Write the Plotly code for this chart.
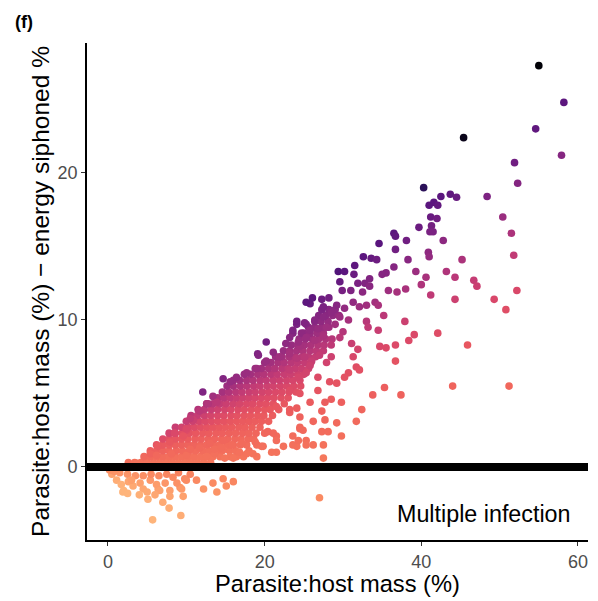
import plotly.graph_objects as go

# ---- data (x = parasite:host mass %, y = mass % - energy siphoned %) ----
tail_x = [55.0, 58.2, 54.6, 45.4, 57.9, 51.9, 52.3, 40.3, 48.4, 42.5, 43.7, 44.5, 41.0, 41.6, 42.1, 50.4, 41.2, 42.0,
          39.7, 41.3, 41.1, 41.5, 38.1, 42.8, 51.5, 51.8, 40.9, 41.0, 38.3, 45.2, 39.3, 40.6, 40.0, 43.2, 44.3, 46.7,
          47.1, 52.2, 38.0, 41.2, 44.3, 49.3, 50.8, 37.9, 39.1, 38.4, 42.1, 45.9, 44.0, 51.2, 37.4]
tail_y = [27.3, 24.8, 23.0, 22.4, 21.2, 20.7, 19.3, 19.0, 18.4, 18.4, 18.55, 18.35, 17.8, 18.0, 17.8, 17.0, 17.0, 16.9,
          16.3, 16.4, 16.0, 16.0, 15.4, 15.4, 15.9, 14.4, 14.6, 14.3, 14.1, 14.1, 13.3, 12.9, 12.4, 13.3, 12.9, 12.7,
          12.3, 12.0, 12.1, 11.7, 11.4, 11.4, 10.7, 9.9, 9.0, 8.6, 9.1, 8.3, 5.5, 5.5, 4.9]

mid_x = [36.5, 36.7, 34.6, 36.7, 32.6, 33.6, 34.3, 31.5, 36.5, 29.4, 30.2, 31.4, 35.5, 35.0, 33.4, 32.8, 31.9, 29.6,
         29.9, 31.0, 35.8, 36.9, 33.4, 32.5, 25.3, 26.1, 27.3, 28.2, 27.5, 29.2, 30.2, 31.3, 32.1, 33.0, 34.1, 34.5,
         35.2, 24.1, 25.1, 26.4, 27.5, 28.5, 29.6, 30.7, 33.0, 33.2, 34.5, 23.6, 24.7, 25.8, 26.8, 27.9, 29.0, 30.0,
         23.2, 24.3, 25.3, 26.4, 27.5, 28.5, 29.6, 31.1, 31.9, 34.7, 35.5, 36.7, 36.7, 23.2, 24.1, 25.1, 26.0, 27.0,
         27.9, 28.5, 31.3, 31.7, 32.1, 30.7, 30.2, 23.2, 24.3, 25.3, 26.8, 28.3, 29.2, 25.8, 33.8, 35.3, 23.2, 24.5,
         25.8, 26.8, 27.7, 28.5, 29.8, 32.4, 31.7, 23.2, 24.5, 26.2, 27.3, 27.7, 29.2, 24.5, 27.3, 28.1, 29.8, 23.6,
         25.3, 26.2, 27.5, 24.3, 27.5]
mid_y = [15.9, 15.7, 15.2, 14.8, 14.3, 14.2, 14.1, 13.7, 13.6, 13.3, 13.3, 13.1, 13.2, 13.1, 12.8, 12.5, 12.5, 12.6,
         12.0, 12.0, 12.0, 11.9, 12.3, 11.9, 11.2, 11.5, 11.4, 11.5, 10.9, 11.0, 10.8, 11.2, 10.9, 11.0, 11.2, 11.0,
         10.3, 9.9, 9.8, 10.0, 10.2, 10.5, 10.2, 10.0, 9.9, 9.5, 9.3, 9.3, 9.1, 9.3, 9.4, 9.5, 9.7, 9.2,
         8.8, 8.5, 8.8, 8.6, 8.9, 8.3, 8.8, 8.4, 8.0, 8.2, 8.1, 8.3, 7.2, 7.7, 7.4, 7.5, 7.2, 7.6,
         7.1, 7.5, 7.5, 6.8, 6.6, 6.4, 6.1, 6.6, 6.1, 6.4, 6.1, 5.8, 5.7, 6.9, 4.9, 5.4, 5.2, 5.0,
         4.4, 5.2, 4.4, 4.6, 4.4, 3.9, 3.1, 3.9, 3.4, 3.1, 3.8, 3.2, 3.0, 2.6, 2.4, 2.4, 2.1, 1.5,
         1.5, 1.5, 1.5, 1.8, 0.6]

edge_x = [12.1, 14.7, 19.1, 20.2, 21.1, 22.7, 23.6, 24.1, 25.3, 25.8, 16.4, 17.7, 19.0, 20.2, 21.9, 23.2, 24.5, 15.6,
          13.4, 12.6, 10.9, 10.0, 9.6, 19.2, 20.7, 21.5, 23.2, 24.1, 24.5, 23.6, 25.3, 24.1, 21.5, 19.8, 19.0, 17.7,
          15.6, 14.3, 21.5, 22.4, 24.9, 13.6, 14.7, 16.0, 16.8, 18.5, 19.6, 20.9, 21.5, 18.8, 17.1, 15.8, 14.7, 13.0,
          11.7, 21.1, 20.4, 3.7, 5.4, 6.4, 7.9, 8.5, 10.0, 10.5, 11.7, 12.8, 13.9, 6.2, 8.1, 10.0, 10.5, 12.6, 13.6,
          14.5, 14.9]
edge_y = [5.1, 6.0, 7.7, 8.5, 7.8, 8.4, 9.1, 9.7, 9.7, 11.1, 6.1, 6.4, 6.7, 7.2, 7.5, 7.8, 8.2, 5.8,
          4.8, 4.3, 3.2, 2.5, 2.1, 7.6, 3.9, 4.1, 3.7, 4.0, 2.7, 2.1, 1.8, 1.4, 2.1, 1.4, 0.7, 0.9,
          0.7, 1.2, 1.0, 1.4, 2.5, 0.9, 1.2, 0.6, 1.0, 0.9, 1.4, 1.0, 1.8, 1.7, 1.6, 1.5, 1.8, 1.6,
          1.3, 2.3, 2.4, 0.25, 0.9, 1.4, 1.7, 2.3, 2.6, 3.3, 3.8, 4.3, 4.4, 0.8, 0.9, 0.8, 1.2, 0.7, 1.2,
          1.3, 0.6]

# dense core, read row by row (y level -> x positions)
core_rows = {
    0.3: [2.6, 3.4, 4.2, 5.0, 5.8, 6.6, 7.4, 8.2, 9.0, 9.8, 10.6, 11.4, 12.2, 13.1],
    0.7: [4.6, 5.4, 6.2, 7.0, 7.8, 8.6, 9.4, 10.2, 11.0, 11.8, 12.6, 13.4, 14.3, 16.4, 17.3],
    1.1: [5.4, 6.2, 7.0, 7.8, 8.7, 9.5, 10.4, 11.2, 12.1, 12.9, 13.8, 14.6, 15.5, 16.3, 18.0],
    1.5: [6.2, 7.0, 7.8, 8.6, 9.4, 10.2, 11.0, 11.8, 12.6, 13.5, 14.3, 15.2, 16.0, 16.9, 17.7, 19.0],
    1.9: [7.0, 7.8, 8.6, 9.4, 10.2, 11.1, 11.9, 12.8, 13.6, 14.5, 15.3, 16.2, 17.0, 17.9, 18.6],
    2.3: [7.8, 8.6, 9.5, 10.4, 11.2, 12.1, 12.9, 13.8, 14.6, 15.5, 16.3, 17.2, 18.0, 18.9, 20.0],
    2.7: [8.6, 9.4, 10.2, 11.0, 11.8, 12.6, 13.4, 14.2, 15.0, 15.8, 16.7, 17.5, 18.4, 19.4],
    3.1: [10.0, 10.8, 11.6, 12.4, 13.2, 14.0, 14.8, 15.6, 16.4, 17.2, 18.0, 18.8, 19.6, 20.5],
    3.5: [10.6, 11.4, 12.3, 13.1, 14.0, 14.8, 15.7, 16.5, 17.4, 18.2, 19.1, 19.9, 21.0],
    3.9: [11.5, 12.3, 13.2, 14.0, 14.9, 15.7, 16.6, 17.4, 18.3, 19.1, 20.0, 21.8],
    4.3: [12.6, 13.4, 14.3, 15.1, 16.0, 16.8, 17.7, 18.5, 19.4, 20.2, 21.1, 22.5],
    4.7: [14.0, 14.8, 15.6, 16.4, 17.2, 18.0, 18.8, 19.6, 20.4, 21.2, 22.1, 23.0],
    5.1: [14.6, 15.4, 16.3, 17.1, 18.0, 18.8, 19.7, 20.5, 21.4, 22.2, 23.1, 24.0],
    5.5: [15.2, 16.0, 16.9, 17.7, 18.6, 19.4, 20.3, 21.1, 22.0, 22.8, 23.7, 24.6],
    5.9: [16.0, 16.8, 17.7, 18.5, 19.4, 20.2, 21.1, 21.9, 22.8, 23.6, 24.5],
    6.3: [17.4, 18.2, 19.1, 19.9, 20.8, 21.6, 22.5, 23.3, 24.2, 25.0],
    6.7: [18.8, 19.6, 20.5, 21.3, 22.2, 23.0, 23.9, 24.7, 25.6],
    7.1: [20.0, 20.8, 21.7, 22.5, 23.4, 24.2, 25.1, 25.9],
    7.5: [21.4, 22.2, 23.1, 23.9, 24.8, 25.6, 26.5],
    7.9: [22.4, 23.2, 24.1, 24.9, 25.8, 26.6, 27.5],
    8.3: [23.4, 24.2, 25.1, 25.9, 26.8, 27.6],
    8.7: [24.4, 25.2, 26.1, 26.9, 27.8, 28.6],
    9.1: [25.0, 25.8, 26.7, 27.5],
    9.5: [25.6, 26.4, 27.3, 28.2],
    9.9: [26.4, 27.2, 28.1],
    10.3: [26.9, 27.8, 28.7, 29.5],
    10.7: [27.3, 28.2, 29.0],
}

below_x = [27.0, 5.7, 9.3, 7.8, 7.0, 5.1, 1.9, 7.9, 6.4, 9.2, 11.3, 12.2, 13.4, 14.7, 16.0, 13.9, 15.1, 8.8, 9.8,
           0.5, 1.1, 1.7, 2.0, 2.6, 3.2, 4.1, 4.5, 5.4, 6.2, 6.6, 7.3, 9.4, 10.0, 9.6, 7.9, 1.5, 2.5, 3.5, 4.5,
           5.5, 6.5, 7.5, 3.0, 5.0, 6.0, 8.3, 9.0, 10.5, 4.0, 2.5, 0.2, 0.8]
below_y = [-2.1, -3.6, -3.3, -2.8, -2.4, -2.2, -1.7, -1.6, -1.5, -1.4, -0.9, -1.5, -1.1, -0.8, -1.0, -1.7, -1.3, -1.1, -0.8,
           -0.5, -0.9, -1.2, -1.6, -1.0, -1.3, -1.1, -1.5, -0.9, -1.2, -1.6, -1.1, -1.5, -0.9, -2.0, -2.0, -0.4, -0.5, -0.6, -0.6,
           -0.5, -0.6, -0.5, -0.9, -1.7, -1.9, -0.7, -0.4, -0.5, -1.9, -1.8, -0.2, -0.3]

x_ticks = [0, 20, 40, 60]
y_ticks = [0, 10, 20]

# ---- assemble ----
core_x, core_y = [], []
for yv, xs in core_rows.items():
    for xv in xs:
        core_x.append(xv)
        core_y.append(yv)

X = core_x + below_x + edge_x + mid_x + tail_x
Y = core_y + below_y + edge_y + mid_y + tail_y
C = [yv / (xv + 2.0) for xv, yv in zip(X, Y)]

cmin, cmax = -0.35, 0.48
def p(v):
    return (v - cmin) / (cmax - cmin)

colorscale = [
    [0.0, "#feb47b"],
    [p(-0.15), "#fd9d6b"],
    [p(-0.05), "#f98560"],
    [p(0.03), "#f5765c"],
    [p(0.10), "#f1685c"],
    [p(0.17), "#e9585f"],
    [p(0.22), "#da4869"],
    [p(0.27), "#c03a76"],
    [p(0.32), "#9c2e7f"],
    [p(0.37), "#7a2282"],
    [p(0.42), "#56147d"],
    [p(0.45), "#2a1158"],
    [1.0, "#000004"],
]

fig = go.Figure()
fig.add_trace(go.Scatter(
    x=X, y=Y, mode="markers",
    marker=dict(size=7.6, color=C, colorscale=colorscale, cmin=cmin, cmax=cmax,
                line=dict(width=0), opacity=1),
    hoverinfo="skip", showlegend=False,
))

fig.add_shape(type="line", xref="paper", x0=0, x1=1, yref="y", y0=0, y1=0,
              line=dict(color="black", width=8), layer="above")

font_family = "Liberation Sans, Arial, sans-serif"
fig.update_layout(
    width=598, height=601,
    margin=dict(l=87, r=10, t=43, b=61),
    paper_bgcolor="white", plot_bgcolor="white",
    font=dict(family=font_family),
    xaxis=dict(range=[-2.68, 61.28], tickvals=x_ticks, ticks="outside", ticklen=4, tickwidth=1.2,
               tickcolor="#333333", showline=True, linecolor="black", linewidth=1.8, showgrid=False,
               zeroline=False, tickfont=dict(size=18, color="#4d4d4d", family=font_family),
               title=dict(text="Parasite:host mass (%)", font=dict(size=23.7, color="black", family=font_family),
                          standoff=3)),
    yaxis=dict(range=[-4.97, 28.84], tickvals=y_ticks, ticks="outside", ticklen=4, tickwidth=1.2,
               tickcolor="#333333", showline=True, linecolor="black", linewidth=1.8, showgrid=False,
               zeroline=False, tickfont=dict(size=18, color="#4d4d4d", family=font_family),
               title=dict(text="Parasite:host mass (%) \u2212 energy siphoned %",
                          font=dict(size=24.5, color="black", family=font_family), standoff=1)),
    annotations=[
        dict(text="<b>(f)</b>", xref="paper", yref="paper", x=-0.147, y=1.042, xanchor="left", yanchor="middle",
             showarrow=False, font=dict(size=18, color="black", family=font_family)),
        dict(text="Multiple infection", xref="paper", yref="paper", x=0.97, y=0.052, xanchor="right",
             yanchor="middle", showarrow=False, font=dict(size=23.3, color="black", family=font_family)),
    ],
)

fig.write_html("out.html")
